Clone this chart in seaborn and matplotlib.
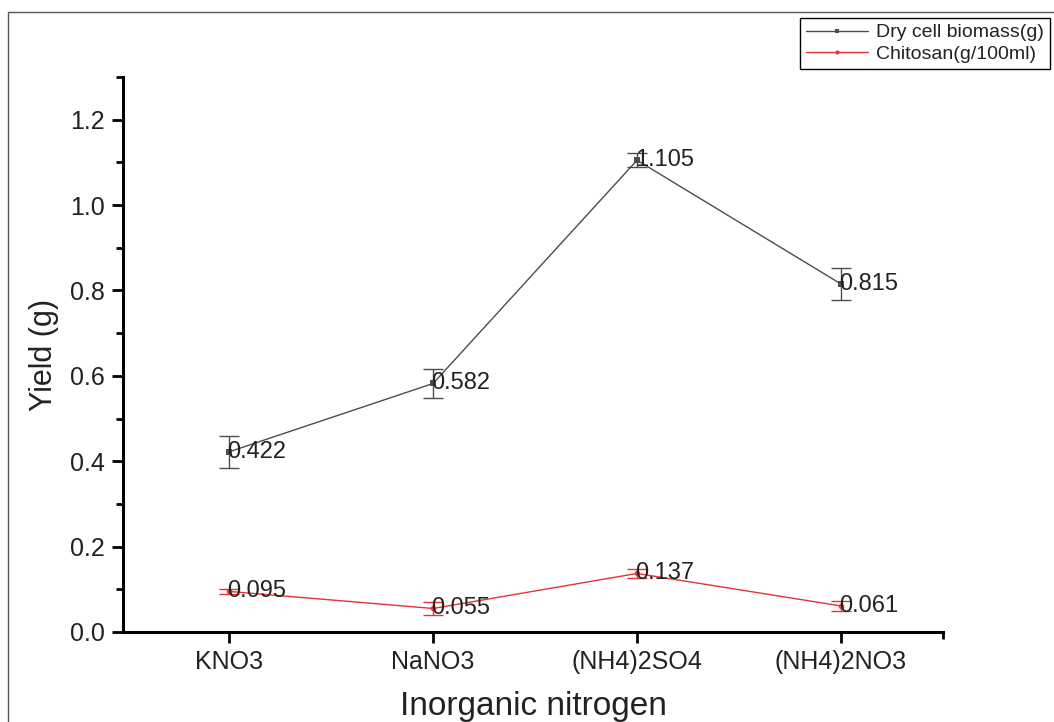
import numpy as np
import pandas as pd
import matplotlib
matplotlib.use("Agg")
import matplotlib.pyplot as plt
from matplotlib.patches import Rectangle
from matplotlib.ticker import MultipleLocator, FixedLocator, FormatStrFormatter
import seaborn as sns

# data
sources = ["KNO3", "NaNO3", "(NH4)2SO4", "(NH4)2NO3"]
biomass = [0.422, 0.582, 1.105, 0.815]
biomass_err = [0.037, 0.035, 0.017, 0.037]
chitosan = [0.095, 0.055, 0.137, 0.061]
chitosan_err = [0.005, 0.015, 0.011, 0.011]
series_names = ["Dry cell biomass(g)", "Chitosan(g/100ml)"]

sns.set_theme(style="white")
plt.rcParams["font.family"] = ["Liberation Sans", "DejaVu Sans"]

pos = np.arange(len(sources))
df = pd.DataFrame({
    "pos": np.concatenate([pos, pos]),
    "yield": biomass + chitosan,
    "err": biomass_err + chitosan_err,
    "series": [series_names[0]] * len(sources) + [series_names[1]] * len(sources),
})

palette = {series_names[0]: "#4d4d4d", series_names[1]: "#e53535"}
markers = {series_names[0]: "s", series_names[1]: "o"}

fig = plt.figure(figsize=(10.54, 7.22), dpi=100)
ax = fig.add_axes([0.1167, 0.1247, 0.778, 0.7687])

sns.lineplot(data=df, x="pos", y="yield", hue="series", style="series",
             palette=palette, markers=markers, dashes=False, markersize=4,
             markeredgewidth=0, linewidth=1, sort=False, legend=False, ax=ax)

for name in series_names:
    sub = df[df["series"] == name]
    ax.errorbar(sub["pos"], sub["yield"], yerr=sub["err"], fmt="none",
                ecolor=palette[name], elinewidth=1, capsize=7, capthick=1)
    for x, y in zip(sub["pos"], sub["yield"]):
        ax.text(x - 0.01, y, f"{y:.3f}", fontsize=17, color="#222222",
                ha="left", va="center")

ax.set_xlim(-0.52, 3.5)
ax.set_ylim(0, 1.3)
ax.set_xticks(pos)
ax.set_xticklabels(sources)
ax.xaxis.set_minor_locator(FixedLocator([3.5]))
ax.yaxis.set_major_locator(MultipleLocator(0.2))
ax.yaxis.set_minor_locator(MultipleLocator(0.1))
ax.yaxis.set_major_formatter(FormatStrFormatter("%.1f"))

for side in ["top", "right"]:
    ax.spines[side].set_visible(False)
for side in ["left", "bottom"]:
    ax.spines[side].set_linewidth(2.2)
    ax.spines[side].set_color("black")

ax.tick_params(which="major", direction="out", length=8, width=2, labelsize=18,
               colors="black", labelcolor="#222222", pad=5)
ax.tick_params(which="minor", direction="out", length=5, width=2, colors="black")
ax.tick_params(axis="both", which="both", bottom=True, left=True)

ax.set_xlabel("Inorganic nitrogen", fontsize=24, color="#222222", labelpad=12)
ax.set_ylabel("Yield (g)", fontsize=22, color="#222222", labelpad=8)

handles = [plt.Line2D([], [], color=palette[n], marker=markers[n], markersize=3,
                      markeredgewidth=0, linewidth=1) for n in series_names]
leg = fig.legend(handles, series_names, loc="upper right",
                 bbox_to_anchor=(0.996, 0.975), borderaxespad=0, fontsize=14,
                 fancybox=False, framealpha=1, handlelength=3.2,
                 borderpad=0.3, labelspacing=0.2, handletextpad=0.4)
leg.get_frame().set_edgecolor("black")
leg.get_frame().set_linewidth(1)
for t in leg.get_texts():
    t.set_color("#222222")

# outer frame of the original picture
fig.patches.append(Rectangle((8 / 1054, -0.1), 1.2, 1 - 12 / 722 + 0.1,
                             transform=fig.transFigure, fill=False,
                             edgecolor="#555555", linewidth=1))

fig.savefig("out.png", dpi=100)
